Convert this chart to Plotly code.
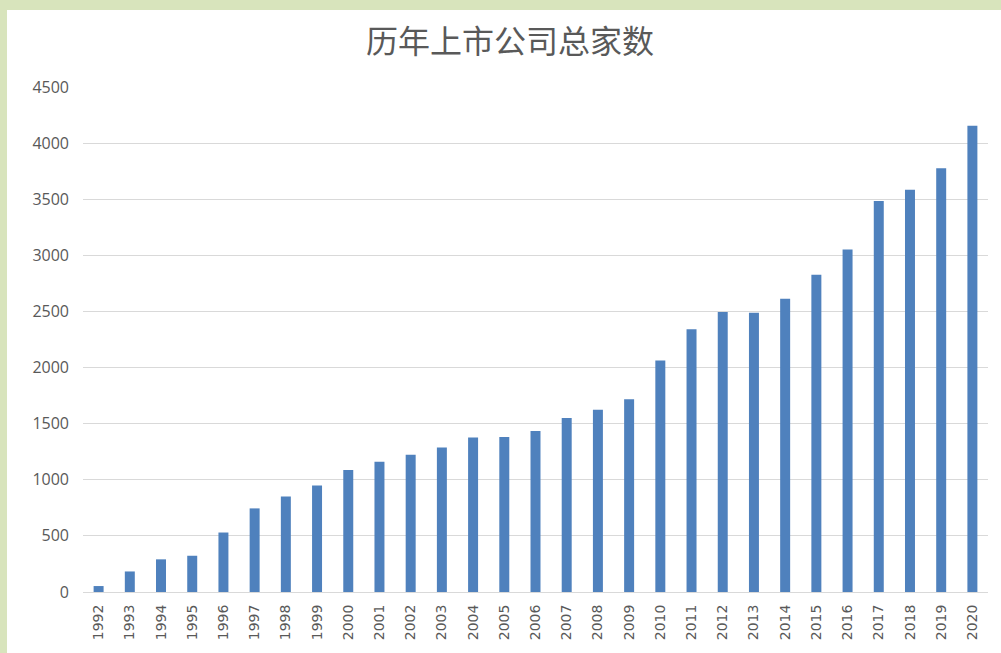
import plotly.graph_objects as go

years = [str(y) for y in range(1992, 2021)]
companies = [53, 183, 291, 323, 530, 745, 851, 949, 1088, 1160, 1224, 1287, 1377, 1381,
             1434, 1550, 1625, 1718, 2063, 2342, 2494, 2489, 2613, 2827, 3052, 3485, 3584,
             3777, 4154]
y_ticks = [0, 500, 1000, 1500, 2000, 2500, 3000, 3500, 4000, 4500]
title_text = "历年上市公司总家数"

W, H = 1001, 653
L, R, T, B = 83, 13, 87, 61
pw, ph = W - L - R, H - T - B

def px(x):
    return (x - L) / pw

def py(y):
    return (H - B - y) / ph

fig = go.Figure(go.Bar(x=years, y=companies, marker_color="#4f81bd",
                       marker_line_width=0))

fig.update_layout(
    width=W, height=H,
    margin=dict(l=L, r=R, t=T, b=B, pad=0),
    paper_bgcolor="#d8e4bc",
    plot_bgcolor="white",
    bargap=0.68,
    showlegend=False,
    title=dict(text=title_text, x=510 / W, xanchor="center", y=1 - 42 / H,
               yanchor="middle",
               font=dict(family="Noto Sans CJK SC", size=32, color="#595959")),
    shapes=[dict(type="rect", xref="paper", yref="paper", layer="below",
                 x0=px(7), x1=px(1005), y0=py(657), y1=py(10),
                 fillcolor="white", line_width=0)],
)
fig.update_yaxes(range=[0, 4500], tickvals=y_ticks, showgrid=True,
                 gridcolor="#d9d9d9", gridwidth=1, zeroline=False,
                 showline=False, ticks="", ticklabelstandoff=13,
                 tickfont=dict(family="Open Sans", size=16, color="#595959"))
fig.update_xaxes(type="category", tickangle=-90, showline=True,
                 linecolor="#d9d9d9", linewidth=1, ticks="",
                 ticklabelstandoff=6,
                 tickfont=dict(family="DejaVu Sans", size=14, color="#595959"))

fig.write_html("out.html", config={"displayModeBar": False},
               post_script="document.body.style.margin='0';")
